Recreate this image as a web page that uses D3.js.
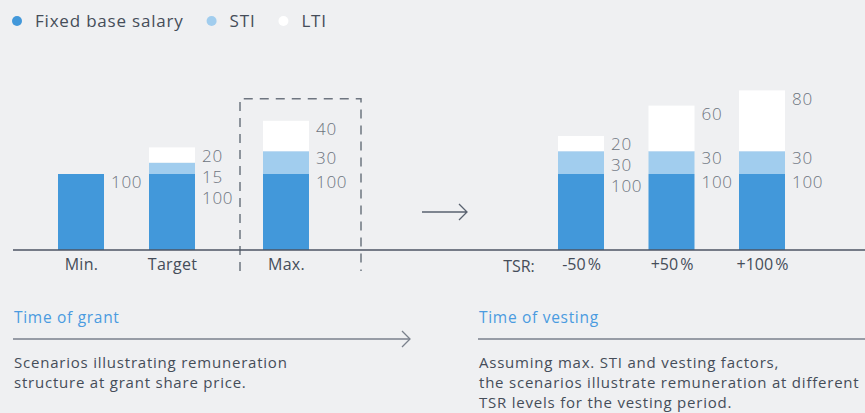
<!DOCTYPE html>
<html>
<head>
<meta charset="utf-8">
<script src="https://cdn.jsdelivr.net/npm/d3@7"></script>
<style>
  html, body { margin: 0; padding: 0; background: #eff0f2; }
  svg { display: block; font-family: "Open Sans", Lato, sans-serif; }
</style>
</head>
<body>
<svg id="chart" width="865" height="413"></svg>
<script>
// ---- data ----
const seriesNames = ["Fixed base salary", "STI", "LTI"];
const grantCategories = ["Min.", "Target", "Max."];
const grantFixed = [100, 100, 100];
const grantSTI = [0, 15, 30];
const grantLTI = [0, 20, 40];
const vestingCategories = ["-50\u202F%", "+50\u202F%", "+100\u202F%"];
const vestingFixed = [100, 100, 100];
const vestingSTI = [30, 30, 30];
const vestingLTI = [20, 60, 80];
const highlighted = "Max.";
const axisPrefix = "TSR:";
const sectionTitles = ["Time of grant", "Time of vesting"];
const grantNote = ["Scenarios illustrating remuneration", "structure at grant share price."];
const vestingNote = ["Assuming max. STI and vesting factors,",
  "the scenarios illustrate remuneration at different",
  "TSR levels for the vesting period."];

// ---- styles ----
const colors = ["#4298da", "#a1cdee", "#ffffff"];
const textDark = "#454d59";
const textGray = "#6d747e";
const lineColor = "#5a6270";
const titleBlue = "#4a9be0";

const svg = d3.select("#chart");
const W = 865;

// ---- scales ----
const y = d3.scaleLinear().domain([0, 200]).range([250, 98]);
const barW = 46;
const grantX = d3.scalePoint().domain(grantCategories).range([81, 263]);
const highlightShift = 23;
const gx = c => grantX(c) + (c === highlighted ? highlightShift : 0);
const vestX = d3.scalePoint().domain(vestingCategories).range([581, 762]);

function build(cats, fixed, sti, lti, xf) {
  return cats.map((c, i) => ({ cat: c, x: xf(c), vals: [fixed[i], sti[i], lti[i]] }));
}
const bars = build(grantCategories, grantFixed, grantSTI, grantLTI, gx)
  .concat(build(vestingCategories, vestingFixed, vestingSTI, vestingLTI, c => vestX(c)));

// ---- dashed highlight box ----
const hx = gx(highlighted);
svg.append("path")
  .attr("d", `M${hx - 46},${y(0) + 21} V${y(199)} H${hx + 75} V${y(0) + 21}`)
  .attr("fill", "none").attr("stroke", "#6e7580").attr("stroke-width", 1.5)
  .attr("stroke-dasharray", "9,7");

// ---- bars ----
const stackKeys = [0, 1, 2];
bars.forEach(b => {
  let base = 0;
  stackKeys.forEach(k => {
    const v = b.vals[k];
    if (v > 0) {
      svg.append("rect")
        .attr("x", b.x - barW / 2).attr("width", barW)
        .attr("y", y(base + v)).attr("height", y(base) - y(base + v))
        .attr("fill", colors[k]);
    }
    base += v;
  });
});

// ---- baseline ----
svg.append("line").attr("x1", 13).attr("x2", W).attr("y1", y(0)).attr("y2", y(0))
  .attr("stroke", "#4d5563").attr("stroke-width", 1.5);

// ---- value labels ----
const gap = 21;
bars.forEach(b => {
  const [f, s, l] = b.vals;
  const items = [];
  if (l > 0) items.push({ v: l, cy: y(f + s + l) + 8 });
  if (s > 0) items.push({ v: s, cy: y(f + s) + 7 });
  items.push({ v: f, cy: y(f) + 8 });
  for (let i = 1; i < items.length; i++) {
    if (items[i].cy < items[i - 1].cy + gap) items[i].cy = items[i - 1].cy + gap;
  }
  items.forEach(it => {
    svg.append("text").attr("x", b.x + barW / 2 + 7).attr("y", it.cy)
      .attr("dy", "0.36em").attr("fill", textGray).attr("letter-spacing", 0.7)
      .attr("font-size", 17).attr("font-weight", 300).text(it.v);
  });
});

// ---- category axes ----
const ga = svg.append("g").attr("transform", `translate(0,${y(0)})`)
  .call(d3.axisBottom(d3.scaleOrdinal().domain(grantCategories).range(grantCategories.map(gx)))
    .tickSize(0).tickPadding(9));
const va = svg.append("g").attr("transform", `translate(0,${y(0)})`)
  .call(d3.axisBottom(vestX).tickSize(0).tickPadding(9));
[ga, va].forEach(a => {
  a.select(".domain").remove();
  a.selectAll("text").attr("font-size", 16).attr("fill", textDark)
    .attr("font-family", "'Open Sans', sans-serif").attr("letter-spacing", 0.3);
});
va.selectAll("text").attr("letter-spacing", 0.8);
svg.append("text").attr("x", 519).attr("y", 272).attr("text-anchor", "middle")
  .attr("font-size", 16).attr("fill", textDark).text(axisPrefix);

// ---- middle arrow ----
svg.append("path").attr("d", "M422,212 H467 M459,204 L467,212 L459,220")
  .attr("fill", "none").attr("stroke", lineColor).attr("stroke-width", 1.3);

// ---- legend ----
const lg = svg.append("g");
let lx = 17;
seriesNames.forEach((n, i) => {
  lg.append("circle").attr("cx", lx).attr("cy", 21).attr("r", 5).attr("fill", colors[i]);
  const t = lg.append("text").attr("x", lx + 18).attr("y", 27).attr("letter-spacing", 0.8)
    .attr("font-size", 17).attr("fill", textDark).text(n);
  lx += 18 + t.node().getComputedTextLength() + 28;
});

// ---- bottom sections ----
const sections = [
  { x: 14, x2: 410, title: sectionTitles[0], note: grantNote, arrow: true },
  { x: 479, x2: W, title: sectionTitles[1], note: vestingNote, arrow: false }
];
sections.forEach(s => {
  svg.append("text").attr("x", s.x).attr("y", 323).attr("font-size", 15.5)
    .attr("letter-spacing", 0.7).attr("fill", titleBlue).text(s.title);
  svg.append("line").attr("x1", s.x - 1).attr("x2", s.x2).attr("y1", 339).attr("y2", 339)
    .attr("stroke", "#7a818c").attr("stroke-width", 1.3);
  if (s.arrow) {
    svg.append("path").attr("d", `M${s.x2 - 8},331 L${s.x2},339 L${s.x2 - 8},347`)
      .attr("fill", "none").attr("stroke", "#7a818c").attr("stroke-width", 1.3);
  }
  s.note.forEach((line, i) => {
    svg.append("text").attr("x", s.x).attr("y", 368 + i * 20).attr("font-size", 15)
      .attr("letter-spacing", 0.78).attr("fill", textDark).text(line);
  });
});
</script>
</body>
</html>
